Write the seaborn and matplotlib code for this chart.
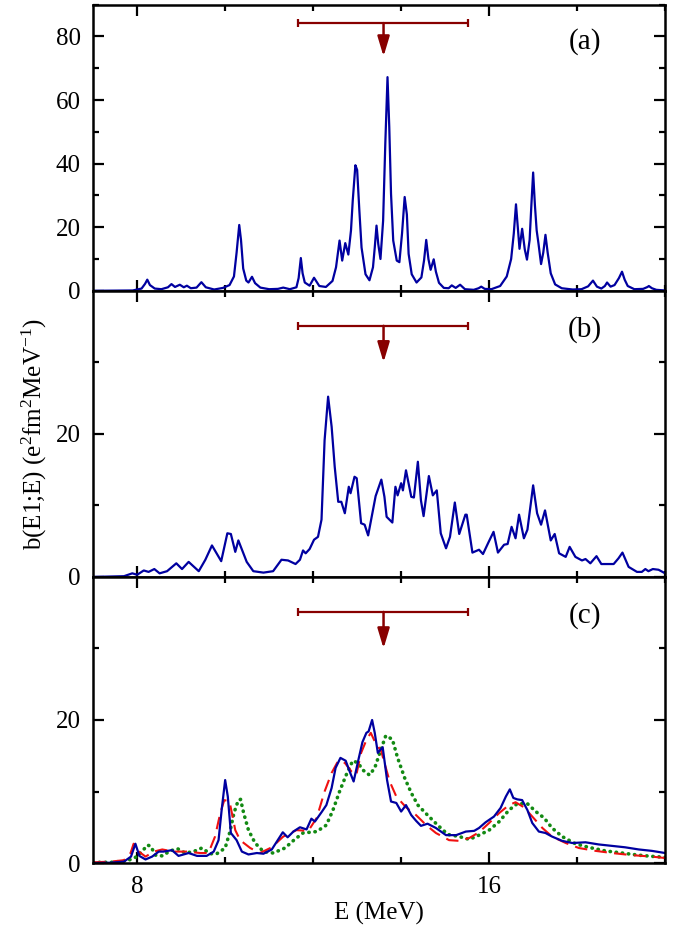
import numpy as np
import matplotlib
matplotlib.use("Agg")
import matplotlib.pyplot as plt
from matplotlib.ticker import MultipleLocator, FixedLocator
import seaborn as sns

# ---- panel (a): discrete-like strength, narrow folding ----
e_a = [7.0, 7.9, 8.1, 8.18, 8.23, 8.29, 8.4, 8.55, 8.7, 8.78, 8.86, 8.97, 9.06, 9.13, 9.22,
       9.35, 9.46, 9.56, 9.75, 9.95, 10.1, 10.2, 10.26, 10.32, 10.36, 10.41, 10.48, 10.53,
       10.61, 10.68, 10.8, 11.0, 11.2, 11.32, 11.47, 11.62, 11.67, 11.72, 11.76, 11.81, 11.92,
       12.02, 12.14, 12.29, 12.44, 12.52, 12.6, 12.66, 12.73, 12.8, 12.86, 12.9, 12.96, 13.0,
       13.05, 13.1, 13.19, 13.28, 13.36, 13.4, 13.44, 13.48, 13.53, 13.59, 13.64, 13.69, 13.73,
       13.77, 13.82, 13.9, 13.96, 14.02, 14.08, 14.13, 14.17, 14.24, 14.35, 14.46, 14.52, 14.57,
       14.62, 14.67, 14.74, 14.79, 14.86, 14.97, 15.08, 15.15, 15.24, 15.34, 15.45, 15.65,
       15.76, 15.82, 15.9, 16.05, 16.25, 16.4, 16.5, 16.56, 16.61, 16.65, 16.69, 16.75, 16.81,
       16.86, 16.92, 16.96, 17.0, 17.04, 17.08, 17.12, 17.18, 17.23, 17.28, 17.33, 17.4, 17.5,
       17.65, 17.9, 18.1, 18.25, 18.36, 18.45, 18.55, 18.63, 18.68, 18.76, 18.85, 18.95, 19.02,
       19.08, 19.15, 19.3, 19.5, 19.6, 19.63, 19.7, 19.8, 20.0]
b_a = [0.0, 0.1, 0.7, 2.2, 3.5, 1.8, 0.7, 0.5, 1.1, 2.1, 1.2, 1.9, 1.1, 1.6, 0.8,
       1.0, 2.7, 1.1, 0.4, 0.9, 1.8, 4.5, 12.0, 20.7, 16.0, 7.0, 3.2, 2.6,
       4.4, 2.4, 1.0, 0.5, 0.6, 1.0, 0.5, 1.1, 4.0, 10.3, 5.5, 2.6, 1.6,
       4.1, 1.5, 1.2, 3.1, 7.4, 15.8, 9.5, 15.0, 11.4, 19.0, 28.4, 39.5, 38.0,
       25.3, 13.6, 5.2, 3.3, 7.4, 13.6, 20.5, 14.7, 10.0, 22.0, 46.3, 67.2, 51.5,
       30.5, 15.8, 9.5, 9.0, 18.0, 29.5, 24.0, 11.6, 5.2, 2.6, 4.2, 9.5, 16.0,
       10.0, 6.6, 9.9, 6.0, 2.5, 0.9, 0.8, 1.7, 0.9, 1.9, 0.5, 0.3,
       0.8, 1.3, 0.6, 0.5, 1.5, 4.5, 10.0, 18.0, 27.2, 20.0, 13.2, 19.5, 13.0,
       9.8, 16.0, 27.0, 37.2, 27.0, 19.0, 15.0, 8.4, 12.0, 17.6, 12.0, 5.5, 2.0,
       0.8, 0.4, 0.5, 1.4, 3.2, 1.3, 0.7, 1.5, 2.6, 1.3, 1.8, 4.0, 6.0,
       3.5, 1.5, 0.5, 0.6, 1.2, 1.5, 0.8, 0.3, 0.1]

# ---- panel (b) ----
e_b = [7.0, 7.7, 7.89, 8.0, 8.15, 8.26, 8.39, 8.51, 8.68, 8.89, 9.02, 9.17, 9.4, 9.55, 9.7,
       9.91, 10.05, 10.13, 10.23, 10.3, 10.49, 10.64, 10.87, 11.09, 11.28, 11.43, 11.6, 11.7,
       11.77, 11.83, 11.92, 12.02, 12.11, 12.19, 12.26, 12.34, 12.42, 12.49, 12.57, 12.64,
       12.72, 12.81, 12.85, 12.94, 12.99, 13.09, 13.17, 13.25, 13.42, 13.55, 13.62, 13.67,
       13.8, 13.87, 13.92, 14.0, 14.04, 14.11, 14.23, 14.29, 14.38, 14.45, 14.51, 14.63, 14.72,
       14.81, 14.9, 15.02, 15.11, 15.22, 15.32, 15.46, 15.49, 15.62, 15.77, 15.86, 15.99, 16.1,
       16.2, 16.34, 16.42, 16.51, 16.6, 16.68, 16.79, 16.87, 17.0, 17.09, 17.18, 17.27, 17.4,
       17.49, 17.59, 17.74, 17.83, 17.96, 18.11, 18.19, 18.3, 18.44, 18.55, 18.83, 18.94,
       19.03, 19.17, 19.36, 19.47, 19.55, 19.62, 19.72, 19.85, 20.0]
b_b = [0.0, 0.1, 0.5, 0.3, 0.9, 0.7, 1.1, 0.5, 0.8, 1.9, 1.1, 2.1, 0.8, 2.4, 4.4,
       2.2, 6.1, 6.0, 3.5, 5.1, 2.1, 0.8, 0.6, 0.8, 2.4, 2.3, 1.8, 2.4,
       3.7, 3.3, 3.9, 5.2, 5.6, 8.0, 19.1, 25.2, 21.0, 15.4, 10.5, 10.5,
       8.9, 12.6, 11.7, 14.0, 13.8, 7.5, 7.3, 5.8, 11.3, 13.6, 11.2, 8.4,
       7.6, 12.6, 11.4, 13.1, 12.1, 14.9, 11.2, 11.1, 16.1, 10.7, 8.5, 14.1, 11.4,
       12.1, 6.1, 4.0, 5.6, 10.4, 6.0, 8.7, 8.7, 3.4, 3.8, 3.2, 4.9, 6.3,
       3.4, 4.5, 4.6, 7.0, 5.4, 8.7, 5.4, 6.6, 12.8, 8.9, 7.3, 9.3, 5.1,
       6.0, 3.3, 2.8, 4.2, 2.8, 2.3, 2.5, 1.9, 2.9, 1.8, 1.8, 2.6,
       3.4, 1.4, 0.7, 0.7, 1.1, 0.8, 1.1, 1.0, 0.5]

# ---- panel (c): three calculations ----
e_c_solid = [7.0, 7.4, 7.7, 7.86, 7.96, 8.05, 8.19, 8.34, 8.49, 8.6, 8.79, 8.94, 9.17, 9.36,
             9.58, 9.74, 9.85, 9.92, 10.0, 10.06, 10.13, 10.26, 10.38, 10.53, 10.72, 10.87,
             11.06, 11.31, 11.42, 11.55, 11.7, 11.85, 11.96, 12.04, 12.19, 12.3, 12.42, 12.51,
             12.62, 12.74, 12.83, 12.92, 13.02, 13.12, 13.21, 13.26, 13.34, 13.4, 13.47, 13.58,
             13.68, 13.77, 13.89, 14.0, 14.11, 14.23, 14.34, 14.45, 14.6, 14.79, 15.02, 15.25,
             15.47, 15.66, 15.77, 15.92, 16.11, 16.26, 16.38, 16.47, 16.55, 16.64, 16.75, 16.87,
             16.98, 17.13, 17.28, 17.43, 17.66, 17.89, 18.19, 18.49, 18.79, 19.09, 19.4, 19.7, 20.0]
b_c_solid = [0.0, 0.05, 0.2, 0.9, 2.7, 1.0, 0.5, 0.9, 1.6, 1.6, 1.8, 1.0, 1.4, 1.0,
             1.0, 1.6, 3.2, 7.4, 11.6, 9.3, 4.2, 3.2, 1.6, 1.2, 1.4, 1.3,
             1.9, 4.3, 3.6, 4.4, 5.0, 4.7, 6.2, 5.8, 7.1, 8.1, 10.5, 13.3,
             14.7, 14.3, 12.8, 11.4, 14.2, 16.9, 18.2, 18.4, 20.0, 18.2, 15.4, 16.2,
             11.6, 8.6, 8.4, 7.2, 8.1, 6.7, 5.9, 5.2, 5.5, 4.9, 3.9, 3.9,
             4.4, 4.5, 4.9, 5.7, 6.5, 7.7, 9.3, 10.3, 9.1, 8.9, 8.8, 7.4,
             5.6, 4.4, 4.2, 3.7, 3.1, 2.8, 2.9, 2.6, 2.4, 2.2, 1.9, 1.7, 1.4]

e_c_dash = [7.0, 7.4, 7.7, 7.85, 7.92, 8.04, 8.19, 8.38, 8.57, 8.83, 9.13, 9.43, 9.62, 9.77,
            9.89, 9.98, 10.1, 10.23, 10.34, 10.57, 10.79, 11.06, 11.32, 11.62, 11.89, 12.08,
            12.26, 12.42, 12.57, 12.72, 12.87, 12.98, 13.09, 13.21, 13.31, 13.4, 13.55, 13.62,
            13.74, 13.89, 14.11, 14.34, 14.57, 14.79, 15.09, 15.32, 15.55, 15.77, 16.0, 16.23,
            16.45, 16.6, 16.79, 16.98, 17.21, 17.43, 17.74, 18.04, 18.42, 18.79, 19.25, 19.7, 20.0]
b_c_dash = [0.1, 0.2, 0.4, 1.4, 2.7, 1.6, 0.9, 1.6, 1.9, 1.6, 1.6, 1.4, 1.4, 3.7,
            7.0, 8.8, 8.6, 4.6, 3.2, 2.1, 1.4, 2.2, 3.7, 4.6, 4.5, 6.3,
            10.0, 12.6, 14.3, 14.0, 12.8, 12.3, 15.4, 17.2, 18.2, 17.0, 15.6, 14.0,
            11.4, 9.3, 7.8, 6.7, 5.3, 4.2, 3.2, 3.1, 3.5, 4.3, 5.6, 7.0,
            8.1, 8.5, 7.8, 6.5, 4.9, 3.7, 2.8, 2.1, 1.7, 1.4, 1.1, 0.9, 0.7]

e_c_dot = [7.0, 7.4, 7.77, 7.96, 8.11, 8.23, 8.3, 8.42, 8.57, 8.75, 8.92, 9.09, 9.28, 9.47,
           9.66, 9.81, 10.0, 10.11, 10.2, 10.3, 10.35, 10.42, 10.53, 10.68, 10.87, 11.09, 11.36,
           11.58, 11.77, 12.08, 12.3, 12.45, 12.6, 12.75, 12.9, 13.02, 13.13, 13.28, 13.4, 13.51,
           13.65, 13.8, 13.92, 14.08, 14.23, 14.38, 14.6, 14.83, 15.06, 15.32, 15.55, 15.77,
           16.0, 16.23, 16.45, 16.64, 16.87, 17.06, 17.25, 17.43, 17.66, 17.96, 18.26, 18.64,
           19.02, 19.4, 19.77, 20.0]
b_c_dot = [0.1, 0.1, 0.3, 0.8, 1.6, 2.5, 2.4, 1.1, 1.0, 1.7, 2.0, 1.4, 1.6, 2.1,
           1.3, 1.3, 2.1, 4.4, 7.0, 8.8, 8.9, 7.0, 4.6, 2.8, 1.6, 1.4, 2.1,
           3.3, 4.2, 4.4, 5.3, 7.4, 10.0, 12.3, 14.3, 14.0, 13.0, 12.3, 13.3, 15.3,
           17.8, 17.3, 14.7, 11.9, 9.8, 8.1, 6.7, 5.3, 4.0, 3.7, 3.3, 3.9,
           4.6, 5.8, 7.4, 8.3, 8.3, 7.2, 6.3, 4.9, 3.7, 2.7, 2.2, 1.7,
           1.4, 1.1, 0.9, 0.8]

# range markers (horizontal bar with arrow) and panel tags
bar_lo, bar_mid, bar_hi = 11.66, 13.6, 15.53
bar_y = [84.2, 35.1, 35.1]
tip_y = [73.7, 30.0, 30.0]
tags = ["(a)", "(b)", "(c)"]
tag_x = 18.18
tag_y = [78.4, 34.6, 34.6]
ymax = [90, 40, 40]

BLUE = "#0000A0"
DARKRED = "#880000"

sns.set_style("ticks", {"axes.edgecolor": "black", "xtick.color": "black",
                        "ytick.color": "black", "text.color": "black",
                        "axes.labelcolor": "black"})
plt.rcParams["font.family"] = ["Liberation Serif", "DejaVu Serif"]
plt.rcParams["mathtext.fontset"] = "custom"
plt.rcParams["mathtext.rm"] = "Liberation Serif"
plt.rcParams["mathtext.it"] = "Liberation Serif:italic"

fig, axes = plt.subplots(3, 1, sharex=True, figsize=(6.85, 9.3), dpi=100)
fig.subplots_adjust(left=0.136, right=0.971, top=0.995, bottom=0.072, hspace=0)

sns.lineplot(x=e_a, y=b_a, ax=axes[0], color=BLUE, lw=1.6, estimator=None, errorbar=None)
sns.lineplot(x=e_b, y=b_b, ax=axes[1], color=BLUE, lw=1.6, estimator=None, errorbar=None)
sns.lineplot(x=e_c_dot, y=b_c_dot, ax=axes[2], color="#138A13", lw=2.6,
             linestyle=(0, (0.1, 1.6)), dash_capstyle="round", estimator=None, errorbar=None)
sns.lineplot(x=e_c_dash, y=b_c_dash, ax=axes[2], color="#F01010", lw=1.5,
             linestyle=(0, (6, 3.5)), estimator=None, errorbar=None)
sns.lineplot(x=e_c_solid, y=b_c_solid, ax=axes[2], color=BLUE, lw=1.6, estimator=None, errorbar=None)

for i, ax in enumerate(axes):
    ax.set_xlim(7, 20)
    ax.set_ylim(0, ymax[i])
    ax.set_ylabel("")
    ax.errorbar(bar_mid, bar_y[i], xerr=[[bar_mid - bar_lo], [bar_hi - bar_mid]],
                fmt="none", ecolor=DARKRED, elinewidth=1.6, capsize=2.6, capthick=1.6)
    ax.annotate("", xy=(bar_mid, tip_y[i]), xytext=(bar_mid, bar_y[i]),
                arrowprops=dict(arrowstyle="-|>,head_length=0.6,head_width=0.18",
                                color=DARKRED, lw=1.8, mutation_scale=20,
                                shrinkA=0, shrinkB=0))
    ax.text(tag_x, tag_y[i], tags[i], ha="center", va="center", fontsize=21)
    ax.xaxis.set_major_locator(FixedLocator([8, 16]))
    ax.xaxis.set_minor_locator(MultipleLocator(2))
    if i == 0:
        ax.yaxis.set_major_locator(MultipleLocator(20))
        ax.yaxis.set_minor_locator(MultipleLocator(10))
    else:
        ax.yaxis.set_major_locator(FixedLocator([0, 20]))
        ax.yaxis.set_minor_locator(FixedLocator([10, 30]))
    ax.tick_params(which="both", direction="in", top=True, right=True, width=1.6,
                   labelsize=18, pad=9, colors="black")
    ax.tick_params(which="major", length=8)
    ax.tick_params(which="minor", length=4.5)
    for s in ax.spines.values():
        s.set_linewidth(1.8)
        s.set_color("black")

axes[1].set_ylabel(r"b(E1;E) (e$^{2}$fm$^{2}$MeV$^{-1}$)", fontsize=18, labelpad=5)
axes[2].set_xlabel("E (MeV)", fontsize=18, labelpad=3)

plt.savefig("out.png", dpi=100)
